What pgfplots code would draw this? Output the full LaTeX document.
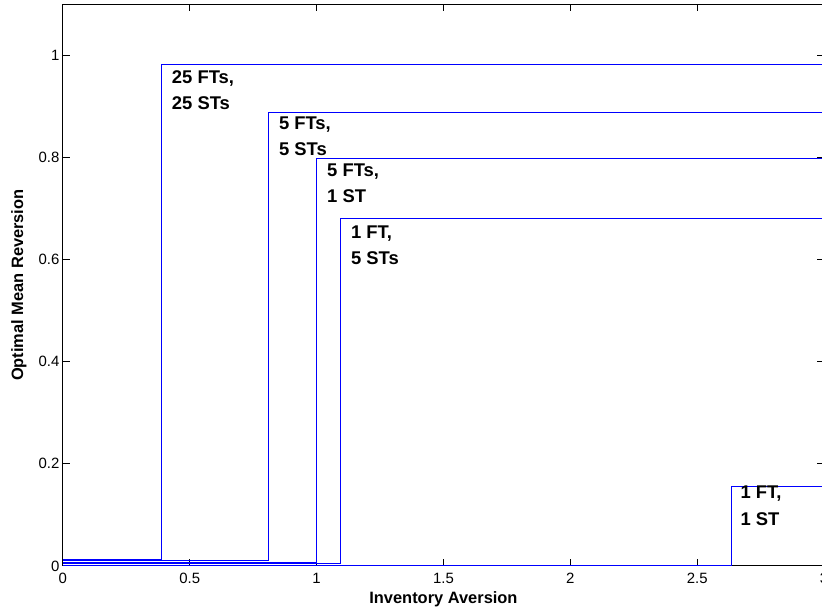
\documentclass[border=0pt]{standalone}
\usepackage{pgfplots}
\pgfplotsset{compat=1.18}
\usepackage{fontspec}
\setmainfont{Liberation Sans}
\usetikzlibrary{calc}

\begin{document}
\begin{tikzpicture}
  \begin{axis}[
    scale only axis,
    width=762bp, height=562bp,
    xmin=0, xmax=3,
    ymin=0, ymax=1.1,
    xtick={0,0.5,...,3},
    ytick={0,0.2,...,1},
    tick align=inside,
    major tick length=7bp,
    every tick/.style={black, line width=0.8bp},
    axis line style={black, line width=1bp},
    /pgf/number format/assume math mode=true,
    ticklabel style={font=\fontsize{15}{18}\selectfont},
    xticklabel style={yshift=-4bp},
    xlabel={Inventory Aversion},
    ylabel={Optimal Mean Reversion},
    every axis x label/.style={at={(axis description cs:0.5,-0.0587)}, anchor=center,
      font=\bfseries\fontsize{16.5}{19}\selectfont},
    every axis y label/.style={at={(axis description cs:-0.0577,0.5)}, anchor=center, rotate=90,
      font=\bfseries\fontsize{16.5}{19}\selectfont},
  ]
    % 25 FTs, 25 STs
    \addplot[blue, line width=0.9bp] coordinates {(0,0.013) (0.39,0.013) (0.39,0.983) (3,0.983)};
    % 5 FTs, 5 STs
    \addplot[blue, line width=0.9bp] coordinates {(0,0.010) (0.811,0.010) (0.811,0.889) (3,0.889)};
    % 5 FTs, 1 ST
    \addplot[blue, line width=0.9bp] coordinates {(0,0.007) (1.0,0.007) (1.0,0.799) (3,0.799)};
    % 1 FT, 5 STs
    \addplot[blue, line width=0.9bp] coordinates {(0,0.004) (1.094,0.004) (1.094,0.680) (3,0.680)};
    % 1 FT, 1 ST
    \addplot[blue, line width=0.9bp] coordinates {(0,0.001) (2.634,0.001) (2.634,0.156) (3,0.156)};

    \begin{scope}[every node/.style={anchor=west, font=\bfseries\fontsize{18.5}{22}\selectfont}]
      \node at (axis cs:0.416,0.955) {25 FTs,};
      \node at (axis cs:0.416,0.906) {25 STs};
      \node at (axis cs:0.838,0.865) {5 FTs,};
      \node at (axis cs:0.838,0.816) {5 STs};
      \node at (axis cs:1.028,0.773) {5 FTs,};
      \node at (axis cs:1.028,0.725) {1 ST};
      \node at (axis cs:1.122,0.652) {1 FT,};
      \node at (axis cs:1.122,0.603) {5 STs};
      \node at (axis cs:2.657,0.141) {1 FT,};
      \node at (axis cs:2.657,0.092) {1 ST};
    \end{scope}
    \coordinate (cut) at (axis cs:2.992,0);
  \end{axis}
  \coordinate (bl) at (current bounding box.south west);
  \coordinate (tr) at (current bounding box.north east);
  \pgfresetboundingbox
  \useasboundingbox ($(bl)+(-8bp,-2bp)$) rectangle ($(cut |- tr)+(0,4bp)$);
\end{tikzpicture}
\end{document}
